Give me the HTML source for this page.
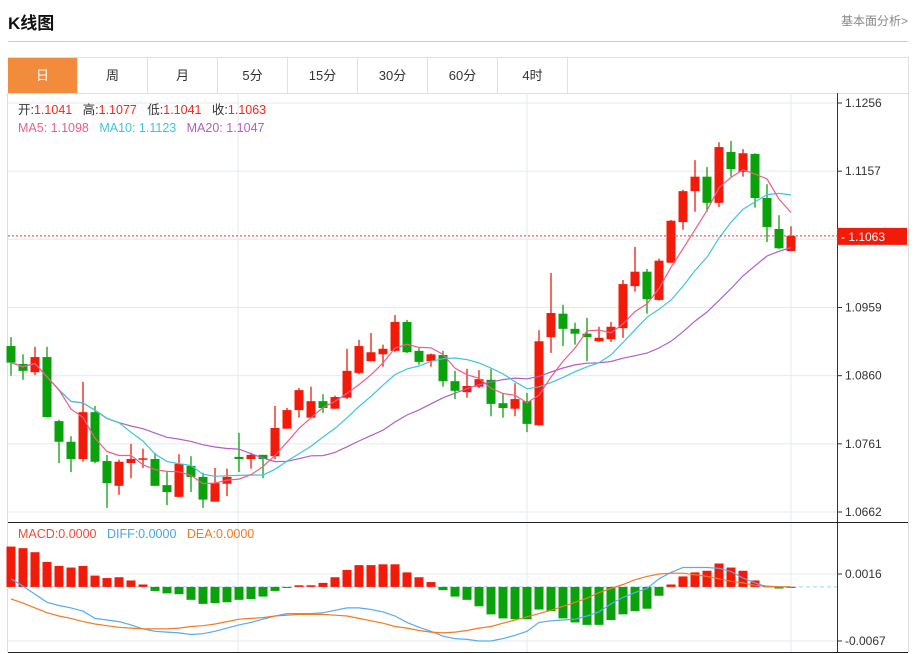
<!DOCTYPE html>
<html><head><meta charset="utf-8"><style>
body{margin:0;width:915px;height:654px;background:#fff;font-family:"Liberation Sans","Noto Sans CJK SC",sans-serif;overflow:hidden;position:relative}
.abs{position:absolute;white-space:nowrap}
.tab{position:absolute;top:58px;height:35px;width:69px;border-right:1px solid #e0e0e0;text-align:center;line-height:35px;font-size:13px;color:#333}
</style></head><body>
<div class="abs" style="left:8px;top:9px;font-size:17px;font-weight:bold;color:#111">K线图</div>
<div class="abs" style="right:7px;top:12px;font-size:12px;color:#888">基本面分析&gt;</div>
<div class="abs" style="left:8px;top:41px;width:900px;height:1px;background:#ccc"></div>
<div class="abs" style="left:8px;top:57px;width:899px;height:35px;border:1px solid #e0e0e0"></div>
<div class="tab" style="left:8px;background:#f28c3c;color:#fff">日</div>
<div class="tab" style="left:78px">周</div>
<div class="tab" style="left:148px">月</div>
<div class="tab" style="left:218px">5分</div>
<div class="tab" style="left:288px">15分</div>
<div class="tab" style="left:358px">30分</div>
<div class="tab" style="left:428px">60分</div>
<div class="tab" style="left:498px">4时</div>
<svg id="chart" width="915" height="654" style="position:absolute;left:0;top:0" xmlns="http://www.w3.org/2000/svg"></svg>
<div class="abs" style="left:18px;top:102px;line-height:16px;font-size:12.5px;color:#333">开:<span style="color:#f0281e">1.1041</span>&nbsp;&nbsp;&nbsp;高:<span style="color:#f0281e">1.1077</span>&nbsp;&nbsp;&nbsp;低:<span style="color:#f0281e">1.1041</span>&nbsp;&nbsp;&nbsp;收:<span style="color:#f0281e">1.1063</span></div>
<div class="abs" style="left:18px;top:120px;line-height:16px;font-size:12.5px"><span style="color:#ee5d8c">MA5: 1.1098</span>&nbsp;&nbsp;&nbsp;<span style="color:#3fc4dc">MA10: 1.1123</span>&nbsp;&nbsp;&nbsp;<span style="color:#b25ec8">MA20: 1.1047</span></div>
<div class="abs" style="left:18px;top:526px;line-height:16px;font-size:12.5px"><span style="color:#f04a3a">MACD:0.0000</span>&nbsp;&nbsp;&nbsp;<span style="color:#4aa3e8">DIFF:0.0000</span>&nbsp;&nbsp;&nbsp;<span style="color:#f07a20">DEA:0.0000</span></div>
<script>
const opens=[1.0903,1.0877,1.0865,1.0887,1.0794,1.0764,1.0739,1.0807,1.0736,1.0700,1.0733,1.0739,1.0739,1.0701,1.0684,1.0729,1.0713,1.0677,1.0703,1.0742,1.0739,1.0745,1.0743,1.0783,1.0810,1.0799,1.0823,1.0812,1.0828,1.0864,1.0881,1.0891,1.0896,1.0938,1.0896,1.0881,1.0890,1.0852,1.0836,1.0844,1.0854,1.0820,1.0812,1.0823,1.0788,1.0916,1.0950,1.0928,1.0921,1.0910,1.0913,1.0929,1.0990,1.1011,1.0970,1.1024,1.1083,1.1128,1.1149,1.1111,1.1185,1.1156,1.1182,1.1118,1.1073,1.1041];
const closes=[1.0879,1.0867,1.0887,1.0800,1.0764,1.0739,1.0807,1.0735,1.0704,1.0735,1.0739,1.0740,1.0700,1.0691,1.0732,1.0713,1.0680,1.0704,1.0713,1.0739,1.0745,1.0739,1.0784,1.0810,1.0839,1.0823,1.0813,1.0829,1.0867,1.0903,1.0894,1.0899,1.0938,1.0894,1.0880,1.0891,1.0852,1.0838,1.0845,1.0855,1.0819,1.0813,1.0826,1.0790,1.0910,1.0951,1.0928,1.0921,1.0916,1.0915,1.0931,1.0993,1.1011,1.0971,1.1027,1.1085,1.1128,1.1149,1.1111,1.1192,1.1160,1.1183,1.1118,1.1076,1.1045,1.1063];
const highs=[1.0916,1.0891,1.0902,1.0902,1.0796,1.0772,1.0851,1.0816,1.0745,1.0738,1.0761,1.0754,1.0748,1.0720,1.0746,1.0743,1.0719,1.0726,1.0725,1.0777,1.0748,1.0745,1.0816,1.0813,1.0842,1.0844,1.0833,1.0831,1.0899,1.0912,1.0922,1.0905,1.0948,1.0941,1.0900,1.0892,1.0896,1.0867,1.0870,1.0868,1.0870,1.0835,1.0849,1.0835,1.0926,1.1009,1.0963,1.0937,1.0944,1.0931,1.0938,1.0999,1.1047,1.1015,1.1030,1.1086,1.1130,1.1173,1.1163,1.1199,1.1201,1.1189,1.1183,1.1138,1.1093,1.1077];
const lows=[1.0860,1.0854,1.0861,1.0799,1.0733,1.0720,1.0735,1.0733,1.0668,1.0687,1.0711,1.0726,1.0700,1.0672,1.0684,1.0691,1.0668,1.0677,1.0685,1.0720,1.0725,1.0711,1.0739,1.0783,1.0799,1.0799,1.0806,1.0812,1.0826,1.0862,1.0881,1.0873,1.0894,1.0893,1.0876,1.0873,1.0844,1.0826,1.0828,1.0842,1.0801,1.0799,1.0801,1.0778,1.0787,1.0893,1.0903,1.0905,1.0881,1.0909,1.0909,1.0915,1.0982,1.0950,1.0969,1.1024,1.1072,1.1098,1.1098,1.1105,1.1149,1.1149,1.1104,1.1054,1.1044,1.1041];
const macdHist=[50,48,43,31,26,24,26,14,11,12,8,3,-5,-8,-9,-16,-21,-20,-19,-16,-15,-12,-5,-1,2,2,5,12,21,27,27,28,28,18,12,6,-4,-12,-16,-24,-34,-39,-40,-40,-28,-30,-39,-44,-47,-47,-41,-34,-30,-27,-11,3,13,18,20,29,24,20,8,1,-2,-1];
const diffVals=[10,1,-9,-19,-23,-26,-30,-39,-41,-43,-47,-52,-55,-56,-57,-59,-58,-55,-51,-47,-44,-40,-36,-33,-33,-33,-32,-29,-26,-26,-28,-31,-36,-44,-50,-55,-61,-64,-65,-67,-67,-64,-60,-55,-44,-42,-41,-40,-36,-31,-21,-13,-7,-2,10,18,24,24,24,23,19,11,5,0,0,0];
const deaVals=[-15,-20,-26,-32,-36,-39,-43,-46,-48,-50,-51,-52,-52,-52,-51,-49,-48,-46,-43,-40,-39,-38,-36,-35,-34,-34,-34,-35,-36,-39,-42,-45,-49,-51,-54,-56,-57,-56,-54,-51,-49,-45,-41,-37,-33,-29,-24,-19,-14,-7,-2,3,9,13,16,17,17,15,13,10,7,5,2,1,0,0];
const priceTicks=["1.1256","1.1157","1.1058","1.0959","1.0860","1.0761","1.0662"];
const macdTicks=["0.0016","-0.0067"];
const lastPrice=1.1063;

const svg=document.getElementById('chart');
const NS='http://www.w3.org/2000/svg';
function mk(tag,attrs){const e=document.createElementNS(NS,tag);for(const k in attrs)e.setAttribute(k,attrs[k]);svg.appendChild(e);return e;}
const pTop=1.1256,pBot=1.0662,yTop=103,yBot=512;
function yP(p){return yTop+(pTop-p)/(pTop-pBot)*(yBot-yTop);}
function yM(v){return 574+(0.0016-v*0.0001)/0.0083*67;}
function xI(i){return 11+i*12;}
priceTicks.forEach(t=>{const y=yP(parseFloat(t));
 const g=mk('line',{x1:8,x2:837,y1:y,y2:y,stroke:'#e3ebf2','stroke-width':1});
 
 
 const tk=mk('line',{x1:837,x2:842,y1:y,y2:y,stroke:'#333'});
 
 
 const tx=mk('text',{x:845,y:y+4,'font-size':12,fill:'#333','font-family':'Liberation Sans'});
 tx.textContent=t;
 
 
});
macdTicks.forEach(t=>{const y=yM(parseFloat(t)*10000);
 const g=mk('line',{x1:8,x2:837,y1:y,y2:y,stroke:'#e3ebf2'});
 
 
 const tk=mk('line',{x1:837,x2:842,y1:y,y2:y,stroke:'#333'});
 
 
 const tx=mk('text',{x:845,y:y+4,'font-size':12,fill:'#333','font-family':'Liberation Sans'});
 tx.textContent=t;
 
 
});
[238,527,791].forEach(x=>{const v=mk('line',{x1:x,x2:x,y1:93,y2:652,stroke:'#e3ebf2'});
 
 });
[[7.5,93,7.5,652,'#ddd'],[908.5,93,908.5,652,'#ddd'],[837.5,93,837.5,652,'#333'],[8,522.5,908,522.5,'#222'],[8,652.5,908,652.5,'#222']].forEach(a=>{
 const l=mk('line',{x1:a[0],y1:a[1],x2:a[2],y2:a[3],stroke:a[4]});
 
 });
const z=mk('line',{x1:8,x2:837,y1:yM(0),y2:yM(0),stroke:'#9fd6ee','stroke-dasharray':'4,3'});


macdHist.forEach((v,i)=>{const y0=yM(0),y1=yM(v);
 const r=mk('rect',{x:xI(i)-4.5,y:Math.min(y0,y1),width:9,height:Math.max(1,Math.abs(y1-y0)),fill:v>=0?'#f21b0a':'#0aa20a'});
 
 });
function line(arr,fy,color,name){const pts=[];arr.forEach((v,i)=>{if(v!=null)pts.push(xI(i)+','+fy(v).toFixed(1));});
 const p=mk('polyline',{points:pts.join(' '),fill:'none',stroke:color,'stroke-width':1.2});
 
 }
line(diffVals,yM,'#5aaaf0','diff-line');
line(deaVals,yM,'#f47a22','dea-line');
closes.forEach((c,i)=>{const o=opens[i],up=c>=o,col=up?'#f21b0a':'#0aa20a',x=xI(i);
 const w=mk('line',{x1:x,x2:x,y1:yP(highs[i]),y2:yP(lows[i]),stroke:col,'stroke-width':1.3});
 
 
 const yt=yP(Math.max(o,c)),yb=yP(Math.min(o,c));
 const b=mk('rect',{x:x-4.5,y:yt,width:9,height:Math.max(1.5,yb-yt),fill:col});
 
 });
function ma(n){return closes.map((c,i)=>{const s=closes.slice(Math.max(0,i-n+1),i+1);return s.reduce((a,b)=>a+b,0)/s.length;});}
line(ma(20),yP,'#b25ec8','ma20-line');
line(ma(10),yP,'#3fc4dc','ma10-line');
line(ma(5),yP,'#ee5d8c','ma5-line');
const ly=yP(lastPrice);
const dl=mk('line',{x1:8,x2:837,y1:ly,y2:ly,stroke:'#f03030','stroke-dasharray':'2,2'});


const lb=mk('rect',{x:837,y:ly-8,width:70,height:17,fill:'#f21b0a'});


const lt=mk('text',{x:841,y:ly+5,'font-size':12,fill:'#fff','font-family':'Liberation Sans'});
lt.textContent='- '+lastPrice.toFixed(4);


</script>
</body></html>
